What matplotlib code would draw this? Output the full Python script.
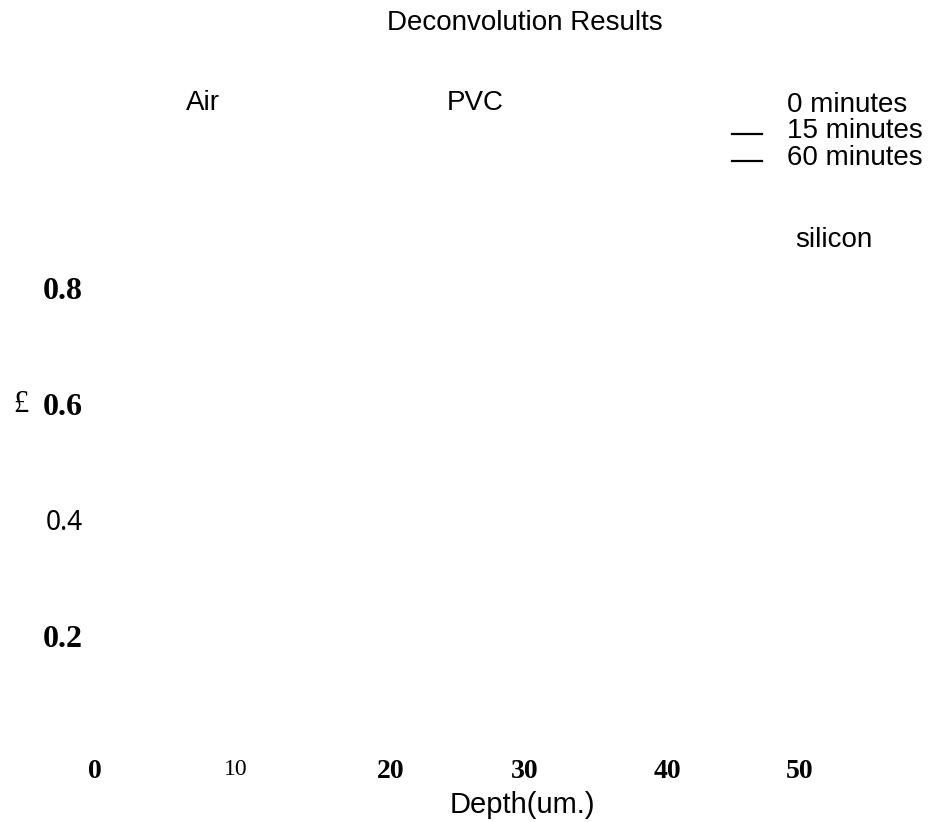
import matplotlib
matplotlib.use("Agg")
import matplotlib.pyplot as plt
from matplotlib.lines import Line2D
from matplotlib.transforms import ScaledTranslation

# Data / labels
title = "Deconvolution Results"
x_ticks = [0, 10, 20, 30, 40, 50]
x_tick_labels = ["0", "10", "20", "30", "40", "50"]
y_ticks = [0.2, 0.4, 0.6, 0.8]
y_tick_labels = ["0.2", "0.4", "0.6", "0.8"]
series_names = ["0 minutes", "15 minutes", "60 minutes"]
series_has_line = [False, True, True]
region_labels = ["Air", "PVC", "silicon"]
x_label = "Depth(um.)"
y_label = "£"

W, H = 939, 822
fig = plt.figure(figsize=(W / 100, H / 100), dpi=100)

def fx(px):
    return px / W

def fy(py):
    return 1 - py / H

# axes: x 0->95px, 50->800px ; y 0->752px, 1->172px
ax = fig.add_axes([fx(95), fy(752), (800 - 95) / W, 580 / H])
ax.set_xlim(0, 50)
ax.set_ylim(0, 1.0)
for s in ax.spines.values():
    s.set_visible(False)
ax.tick_params(length=0)
ax.set_xticks(x_ticks)
ax.set_xticklabels(x_tick_labels)
ax.set_yticks(y_ticks)
ax.set_yticklabels(y_tick_labels)
ax.tick_params(axis="x", pad=5)
ax.tick_params(axis="y", pad=9)

x_label_shift = {"20": 14, "30": 7, "40": 8}
for lab in ax.get_xticklabels():
    t = lab.get_text()
    lab.set_family("Liberation Serif")
    if t == "10":
        lab.set_fontweight("normal")
        lab.set_fontsize(17)
    else:
        lab.set_fontweight("bold")
        lab.set_fontsize(20)
    if t in x_label_shift:
        lab.set_transform(lab.get_transform() +
                          ScaledTranslation(x_label_shift[t] / 100, 0, fig.dpi_scale_trans))
for lab in ax.get_yticklabels():
    if lab.get_text() == "0.4":
        lab.set_family("Noto Sans")
        lab.set_fontweight("normal")
        lab.set_fontsize(19)
    else:
        lab.set_family("Liberation Serif")
        lab.set_fontweight("bold")
        lab.set_fontsize(23)

# axis labels
fig.text(fx(450), fy(813), x_label, ha="left", va="baseline",
         family="Liberation Sans", fontsize=21)
fig.text(fx(21), fy(404), y_label, ha="center", va="center",
         family="Liberation Serif", fontsize=22)

# title
fig.text(fx(525), fy(30), title, ha="center", va="baseline",
         family="Liberation Sans", fontsize=20)

# region labels
region_pos = [(203, 110), (475, 110), (834, 247)]
for name, (px, py) in zip(region_labels, region_pos):
    fig.text(fx(px), fy(py), name, ha="center", va="baseline",
             family="Liberation Sans", fontsize=20)

# legend
for i, (name, has_line) in enumerate(zip(series_names, series_has_line)):
    base = 112 + 26.5 * i
    fig.text(fx(787), fy(base), name, ha="left", va="baseline",
             family="Liberation Sans", fontsize=20)
    if has_line:
        fig.add_artist(Line2D([fx(732), fx(762)], [fy(base - 4), fy(base - 4)],
                              color="black", lw=1.6, transform=fig.transFigure))

fig.savefig("out.png", dpi=100)
